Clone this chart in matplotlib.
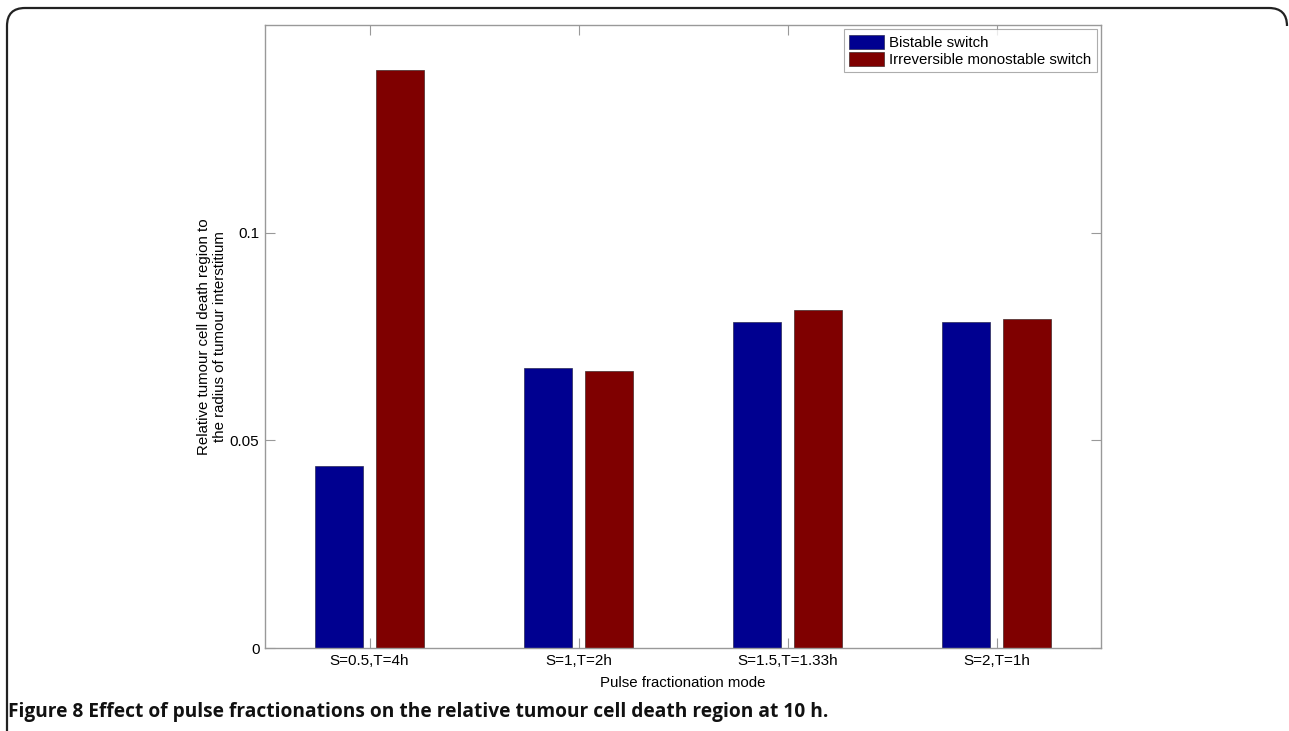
import numpy as np
import matplotlib.pyplot as plt
from matplotlib.path import Path
from matplotlib.patches import PathPatch

# pulse fractionation modes and death-region values for the two switch types
modes = ['S=0.5,T=4h', 'S=1,T=2h', 'S=1.5,T=1.33h', 'S=2,T=1h']
bistable = [0.0437, 0.0675, 0.0786, 0.0786]
monostable = [0.1392, 0.0668, 0.0815, 0.0791]
series_names = ['Bistable switch', 'Irreversible monostable switch']

plt.rcParams['font.family'] = ['Liberation Sans', 'DejaVu Sans']

fig = plt.figure(figsize=(12.89, 7.31), dpi=100)
ax = fig.add_axes([265 / 1289, 1 - 648 / 731, 836 / 1289, 623 / 731])

x = np.arange(1, len(modes) + 1)
w = 0.23
off = 0.145
ax.bar(x - off, bistable, w, color='#000090', edgecolor='#2a2a55', linewidth=0.5,
       label=series_names[0])
ax.bar(x + off, monostable, w, color='#7f0000', edgecolor='#442a2a', linewidth=0.5,
       label=series_names[1])

ax.set_xlim(0.5, 4.5)
ax.set_ylim(0, 0.15)
ax.set_xticks(x)
ax.set_xticklabels(modes)
ax.set_yticks([0, 0.05, 0.1])
ax.set_yticklabels(['0', '0.05', '0.1'])
ax.tick_params(direction='in', length=7, width=0.8, color='#999999',
               top=True, right=True, labelsize=11, pad=4)
for s in ax.spines.values():
    s.set_color('#999999')
    s.set_linewidth(1.0)

ax.set_xlabel('Pulse fractionation mode', fontsize=10.8, labelpad=6)
ax.set_ylabel('Relative tumour cell death region to\nthe radius of tumour interstitium',
              fontsize=10.8, labelpad=2)

leg = ax.legend(loc='upper right', fontsize=10.8, frameon=True, fancybox=False,
                borderaxespad=0.3, handlelength=2.3, handleheight=1.05,
                handletextpad=0.35, borderpad=0.35, labelspacing=0.15)
leg.get_frame().set_edgecolor('#999999')
leg.get_frame().set_linewidth(0.8)

# rounded frame around the figure panel
W, H = 1289, 731
r = 18
pts = [(7, 731), (7, 8 + r), (7, 8), (7 + r, 8), (1287 - r, 8), (1287, 8), (1287, 8 + r)]
codes = [Path.MOVETO, Path.LINETO, Path.CURVE3, Path.CURVE3, Path.LINETO, Path.CURVE3, Path.CURVE3]
verts = [(px / W, 1 - py / H) for px, py in pts]
fig.add_artist(PathPatch(Path(verts, codes), transform=fig.transFigure,
                         fill=False, edgecolor='#222222', linewidth=1.6))

fig.text(8 / W, 1 - 712 / H,
         'Figure 8 Effect of pulse fractionations on the relative tumour cell death region at 10 h.',
         fontsize=13.75, fontweight='bold', family=['Open Sans', 'DejaVu Sans'],
         va='center', ha='left', color='#111111')

fig.savefig('out.png', dpi=100)
